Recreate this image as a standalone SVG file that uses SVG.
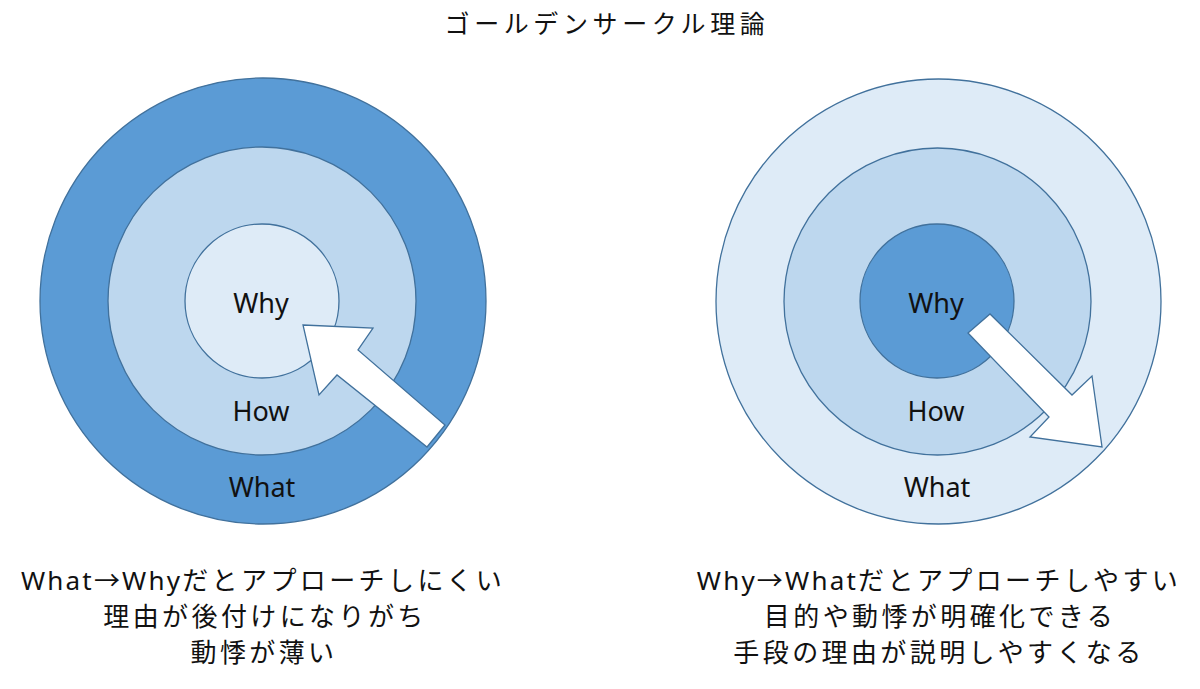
<svg xmlns="http://www.w3.org/2000/svg" width="1200" height="689" viewBox="0 0 1200 689">
<style>
.c{stroke:#41719C;stroke-width:1.3}
.dark{fill:#5B9BD5}
.mid{fill:#BDD7EE}
.light{fill:#DEEBF7}
.lbl{font-family:"Noto Sans","Noto Sans CJK JP",sans-serif;font-size:27px;fill:#111;text-anchor:middle}
.jp{font-family:"Noto Sans","Noto Sans CJK JP",sans-serif;font-size:26px;fill:#111;text-anchor:middle;letter-spacing:3.4px}
.lat{letter-spacing:2.2px}
.arrow{fill:#FFFFFF;stroke:#41719C;stroke-width:1.3;stroke-linejoin:miter}
</style>
<rect width="1200" height="689" fill="#FFFFFF"/>
<text id="title" x="607" y="33" class="jp" style="font-family:'Noto Sans CJK JP',sans-serif;font-size:25px;letter-spacing:4.6px">ゴールデンサークル理論</text>
<g id="left-circle">
  <circle class="c dark" cx="263" cy="301" r="223"/>
  <circle class="c mid" cx="262" cy="301" r="154"/>
  <circle class="c light" cx="262" cy="301" r="77"/>
  <text class="lbl" x="261" y="313">Why</text>
  <text class="lbl" x="261" y="421">How</text>
  <text class="lbl" x="262" y="497">What</text>
</g>
<g id="right-circle">
  <circle class="c light" cx="938.5" cy="301.5" r="222.5"/>
  <circle class="c mid" cx="937.5" cy="301.5" r="153.5"/>
  <circle class="c dark" cx="937" cy="301" r="77"/>
  <text class="lbl" x="936" y="313">Why</text>
  <text class="lbl" x="936" y="421">How</text>
  <text class="lbl" x="937" y="497">What</text>
</g>
<g id="connectors">
  <polygon id="arrow-left" class="arrow" points="303,325 373,328 358,350 445,425 427,447 337,375 319,395"/>
  <polygon id="arrow-right" class="arrow" points="968,333 990,314 1072,395 1092,376 1102,447 1030,437 1049,417"/>
</g>
<g id="left-caption">
  <text class="jp" x="263" y="590"><tspan class="lat">What→Why</tspan>だとアプローチしにくい</text>
  <text class="jp" x="265" y="626">理由が後付けになりがち</text>
  <text class="jp" x="264" y="662">動悸が薄い</text>
</g>
<g id="right-caption">
  <text class="jp" x="939" y="590"><tspan class="lat">Why→What</tspan>だとアプローチしやすい</text>
  <text class="jp" x="940" y="626">目的や動悸が明確化できる</text>
  <text class="jp" x="939" y="662">手段の理由が説明しやすくなる</text>
</g>
</svg>
